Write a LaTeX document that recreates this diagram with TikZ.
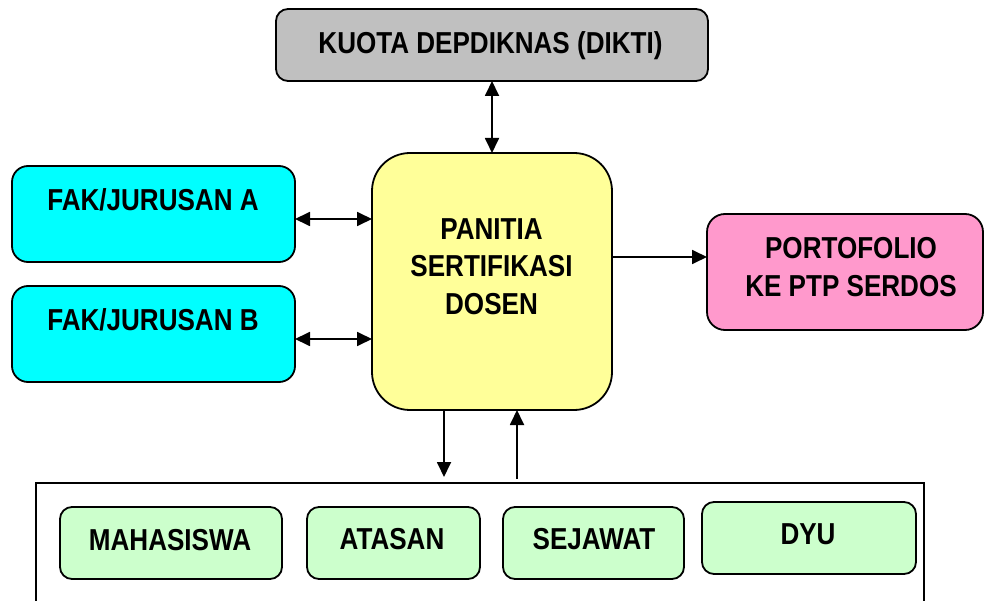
\documentclass[tikz,border=0pt]{standalone}
\usepackage{fontspec}
\setmainfont{Liberation Sans}[FakeStretch=0.86]
\usetikzlibrary{arrows.meta}
\definecolor{boxgray}{HTML}{C0C0C0}
\definecolor{boxyellow}{HTML}{FFFF99}
\definecolor{boxcyan}{HTML}{00FFFF}
\definecolor{boxpink}{HTML}{FF99CC}
\definecolor{boxgreen}{HTML}{CCFFCC}
\tikzset{
  box/.style={draw=black, line width=1.8pt, inner sep=0pt, outer sep=0pt},
  txt/.style={font=\bfseries\fontsize{30.3}{37.5}\selectfont, inner sep=0pt, align=center},
  conn/.style={line width=1.8pt, -{Triangle[length=15pt,width=14pt]}},
  biconn/.style={line width=1.8pt, {Triangle[length=15pt,width=14pt]}-{Triangle[length=15pt,width=14pt]}}
}
\begin{document}
\begin{tikzpicture}[x=1pt,y=-1pt]
\useasboundingbox (0,0) rectangle (985,601);
\clip (0,0) rectangle (985,601);
\fill[white] (0,0) rectangle (985,601);
% boxes
\node[box, fill=boxgray, rounded corners=12pt, minimum width=432pt, minimum height=72pt] (kuota) at (492,45) {};
\node[box, fill=boxyellow, rounded corners=38pt, minimum width=240pt, minimum height=257pt] (panitia) at (492,281.5) {};
\node[box, fill=boxcyan, rounded corners=16pt, minimum width=283pt, minimum height=96pt] (fakA) at (153.5,214) {};
\node[box, fill=boxcyan, rounded corners=16pt, minimum width=283pt, minimum height=96pt] (fakB) at (153.5,334) {};
\node[box, fill=boxpink, rounded corners=18pt, minimum width=276pt, minimum height=116pt] (porto) at (845,272) {};
\node[box, fill=white, minimum width=888pt, minimum height=167pt] (grp) at (480,566.5) {};
\node[box, fill=boxgreen, rounded corners=12pt, minimum width=222pt, minimum height=72pt] (maha) at (171,543) {};
\node[box, fill=boxgreen, rounded corners=12pt, minimum width=173pt, minimum height=72pt] (atasan) at (393.5,543) {};
\node[box, fill=boxgreen, rounded corners=12pt, minimum width=181pt, minimum height=72pt] (sejawat) at (593.5,543) {};
\node[box, fill=boxgreen, rounded corners=12pt, minimum width=214pt, minimum height=72pt] (dyu) at (809,538) {};
% texts
\node[txt, anchor=base] (tkuota) at (490.5,54) {KUOTA DEPDIKNAS (DIKTI)};
\node[txt, anchor=base] (tfakA) at (153,211) {FAK/JURUSAN A};
\node[txt, anchor=base] (tfakB) at (153,331) {FAK/JURUSAN B};
\node[txt] (tpanitia) at (491.5,266.5) {PANITIA\\SERTIFIKASI\\DOSEN};
\node[txt] (tporto) at (851,267) {PORTOFOLIO\\KE PTP SERDOS};
\node[txt, anchor=base] (tmaha) at (170,550) {MAHASISWA};
\node[txt, anchor=base] (tatasan) at (392,549) {ATASAN};
\node[txt, anchor=base] (tsejawat) at (594,549) {SEJAWAT};
\node[txt, anchor=base] (tdyu) at (808,544) {DYU};
% connectors
\coordinate (ya) at (0,219);
\coordinate (yb) at (0,339);
\coordinate (yp) at (0,257);
\coordinate (d1) at (444,477);
\coordinate (u1) at (517,479);
\draw[biconn] (kuota.south) -- (panitia.north);
\draw[biconn] (fakA.east |- ya) -- (panitia.west |- ya);
\draw[biconn] (fakB.east |- yb) -- (panitia.west |- yb);
\draw[conn] (panitia.east |- yp) -- (porto.west |- yp);
\draw[conn] (panitia.south -| d1) -- (d1);
\draw[conn] (u1) -- (u1 |- panitia.south);
\end{tikzpicture}
\end{document}
